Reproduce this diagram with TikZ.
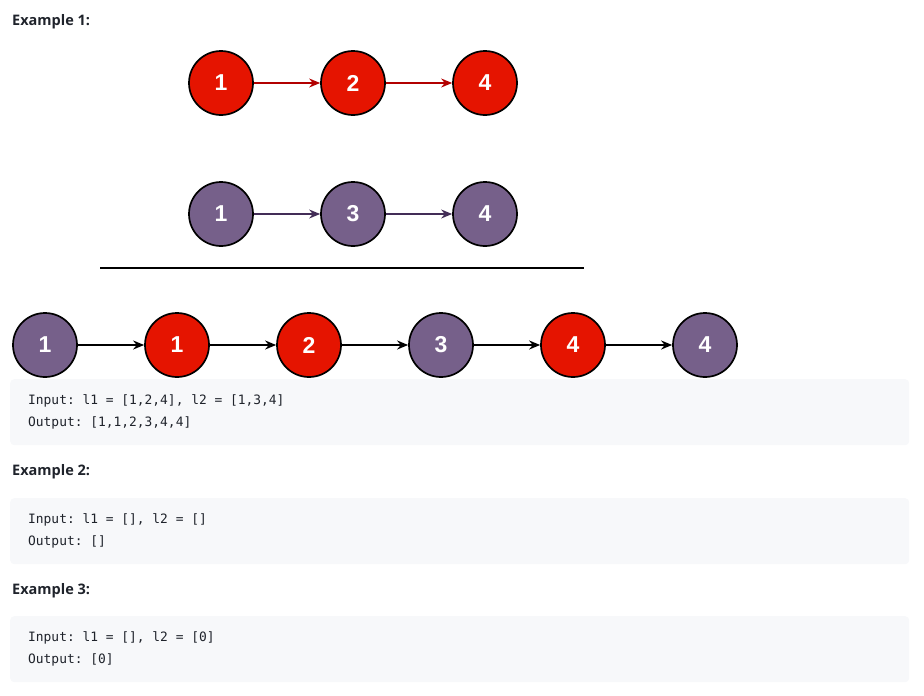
\documentclass[tikz,border=0pt]{standalone}
\usepackage{fontspec}
\setmainfont{Open Sans}
\setsansfont{Liberation Sans}
\setmonofont{DejaVu Sans Mono}
\usepackage{xcolor}
\usetikzlibrary{shapes,arrows.meta,positioning}

\definecolor{listred}{HTML}{E51400}
\definecolor{listpurple}{HTML}{76608A}
\definecolor{arrowred}{HTML}{B20000}
\definecolor{arrowpurple}{HTML}{432D57}
\definecolor{codebg}{HTML}{F7F8FA}
\definecolor{inktext}{HTML}{1F232B}

\begin{document}
\begin{tikzpicture}[x=1pt, y=-1pt, node distance=132pt, on grid]
    % Define styles
    \tikzstyle{cell} = [circle, minimum size=64pt, inner sep=0pt, draw=black, line width=1.7pt, text=white, font=\sffamily\bfseries\fontsize{23}{23}\selectfont]
    \tikzstyle{redcell} = [cell, fill=listred]
    \tikzstyle{purplecell} = [cell, fill=listpurple]
    \tikzstyle{link} = [line width=1.4pt, -{Stealth[length=11pt, width=9pt]}]
    \tikzstyle{heading} = [anchor=west, inner sep=0pt, text=inktext, font=\bfseries\fontsize{14.5}{16}\selectfont]
    \tikzstyle{codebox} = [rectangle, rounded corners=4pt, fill=codebg, minimum width=899pt, minimum height=66pt, anchor=north west]
    \tikzstyle{code} = [anchor=west, inner sep=0pt, text=inktext, font=\ttfamily\fontsize{12.9}{14}\selectfont]

    \useasboundingbox (0,0) rectangle (924,696);

    % Example 1 - first list
    \node [heading] (ex1) at (12,22) {Example 1:};
    \node [redcell] (a1) at (221,83) {1};
    \node [redcell, right=of a1] (a2) {2};
    \node [redcell, right=of a2] (a4) {4};
    \draw [link, arrowred] (a1) -- (a2);
    \draw [link, arrowred] (a2) -- (a4);

    % second list
    \node [purplecell] (b1) at (221,214) {1};
    \node [purplecell, right=of b1] (b3) {3};
    \node [purplecell, right=of b3] (b4) {4};
    \draw [link, arrowpurple] (b1) -- (b3);
    \draw [link, arrowpurple] (b3) -- (b4);

    \draw [line width=2.4pt] (100,268) -- (584,268);

    % merged list
    \node [purplecell] (m1) at (45,345) {1};
    \node [redcell, right=of m1] (m2) {1};
    \node [redcell, right=of m2] (m3) {2};
    \node [purplecell, right=of m3] (m4) {3};
    \node [redcell, right=of m4] (m5) {4};
    \node [purplecell, right=of m5] (m6) {4};
    \foreach \i/\j in {m1/m2, m2/m3, m3/m4, m4/m5, m5/m6}
        \draw [link, line width=1.7pt, black] (\i) -- (\j);

    \node [codebox] (box1) at (10,379) {};
    \node [code] (in1) at (28,401) {Input: l1 = [1,2,4], l2 = [1,3,4]};
    \node [code] (out1) at (28,423) {Output: [1,1,2,3,4,4]};

    % Example 2
    \node [heading] (ex2) at (12,472) {Example 2:};
    \node [codebox] (box2) at (10,498) {};
    \node [code] (in2) at (28,520) {Input: l1 = [], l2 = []};
    \node [code] (out2) at (28,542) {Output: []};

    % Example 3
    \node [heading] (ex3) at (12,591) {Example 3:};
    \node [codebox] (box3) at (10,616) {};
    \node [code] (in3) at (28,638) {Input: l1 = [], l2 = [0]};
    \node [code] (out3) at (28,660) {Output: [0]};

\end{tikzpicture}
\end{document}
